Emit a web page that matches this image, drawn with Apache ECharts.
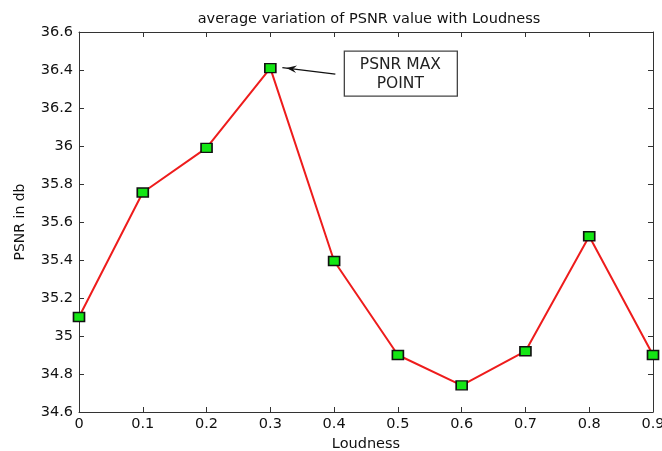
<!DOCTYPE html>
<html>
<head>
<meta charset="utf-8">
<script src="https://cdn.jsdelivr.net/npm/echarts@6/dist/echarts.min.js"></script>
<style>
  html, body { margin: 0; padding: 0; background: #fff; }
  #chart { width: 662px; height: 451px; }
</style>
</head>
<body>
<div id="chart"></div>
<script>
const loudness = [0, 0.1, 0.2, 0.3, 0.4, 0.5, 0.6, 0.7, 0.8, 0.9]
const psnr = [35.10, 35.755, 35.99, 36.41, 35.395, 34.90, 34.74, 34.92, 35.525, 34.90]
const noteLines = ['PSNR MAX', 'POINT']

const font = 'DejaVu Sans, sans-serif'
const chart = echarts.init(document.getElementById('chart'))

function tick() {
  return { show: true, inside: true, length: 5, lineStyle: { color: '#333', width: 1 } }
}
function axLine() {
  return { show: true, onZero: false, lineStyle: { color: '#333', width: 1 } }
}

const option = {
  backgroundColor: '#fff',
  animation: false,
  title: {
    text: 'average variation of PSNR value with Loudness',
    left: 364,
    top: 7,
    textAlign: 'center',
    textStyle: { fontFamily: font, fontSize: 14.5, fontWeight: 'normal', color: '#111' }
  },
  grid: { left: 79, right: 9, top: 32, bottom: 39, outerBoundsMode: 'none', containLabel: false },
  xAxis: [
    {
      type: 'value', min: 0, max: 0.9, interval: 0.1,
      name: 'Loudness', nameLocation: 'middle', nameGap: 25,
      nameTextStyle: { fontFamily: font, fontSize: 14.5, color: '#111' },
      axisLine: axLine(), axisTick: tick(),
      axisLabel: { fontFamily: font, fontSize: 14.5, color: '#111', margin: 5 },
      splitLine: { show: false }
    },
    {
      type: 'value', position: 'top', min: 0, max: 0.9, interval: 0.1,
      axisLine: axLine(), axisTick: tick(),
      axisLabel: { show: false }, splitLine: { show: false }
    }
  ],
  yAxis: [
    {
      type: 'value', min: 34.6, max: 36.6, interval: 0.2,
      name: 'PSNR in db', nameLocation: 'middle', nameGap: 52, nameRotate: 90,
      nameTextStyle: { fontFamily: font, fontSize: 14, color: '#111' },
      axisLine: axLine(), axisTick: tick(),
      axisLabel: { fontFamily: font, fontSize: 14.5, color: '#111', margin: 6 },
      splitLine: { show: false }
    },
    {
      type: 'value', position: 'right', min: 34.6, max: 36.6, interval: 0.2,
      axisLine: axLine(), axisTick: tick(),
      axisLabel: { show: false }, splitLine: { show: false }
    }
  ],
  series: [
    {
      type: 'line',
      data: loudness.map((x, i) => [x, psnr[i]]),
      symbol: 'rect',
      symbolSize: [11, 9],
      lineStyle: { color: '#ee1c1c', width: 2 },
      itemStyle: { color: '#14e614', borderColor: '#111', borderWidth: 1.5 },
      z: 3
    }
  ]
}

chart.setOption(option)

// annotation placed relative to the max point
const maxIdx = psnr.indexOf(Math.max(...psnr))
const p = chart.convertToPixel({ xAxisIndex: 0, yAxisIndex: 0 }, [loudness[maxIdx], psnr[maxIdx]])
const headX = p[0] + 16, headY = p[1]
const tailX = p[0] + 65, tailY = p[1] + 6
const ang = Math.atan2(headY - tailY, headX - tailX)
const ah = 11, aw = 0.35
chart.setOption({
  graphic: [
    {
      type: 'line',
      shape: { x1: tailX, y1: tailY, x2: headX + 4 * Math.cos(ang), y2: headY + 4 * Math.sin(ang) },
      style: { stroke: '#111', lineWidth: 1.3 }
    },
    {
      type: 'polygon',
      shape: {
        points: [
          [headX, headY],
          [headX - ah * Math.cos(ang - aw), headY - ah * Math.sin(ang - aw)],
          [headX - 0.6 * ah * Math.cos(ang), headY - 0.6 * ah * Math.sin(ang)],
          [headX - ah * Math.cos(ang + aw), headY - ah * Math.sin(ang + aw)]
        ]
      },
      style: { fill: '#111' }
    },
    {
      type: 'rect',
      shape: { x: p[0] + 74, y: p[1] - 17, width: 113, height: 45 },
      style: { fill: '#fff', stroke: '#444', lineWidth: 1.3 }
    },
    {
      type: 'text',
      x: p[0] + 130, y: p[1] + 6,
      style: {
        text: noteLines.join('\n'),
        fontFamily: font, fontSize: 15.5, fill: '#222',
        align: 'center', verticalAlign: 'middle', lineHeight: 19
      }
    }
  ]
})
</script>
</body>
</html>
